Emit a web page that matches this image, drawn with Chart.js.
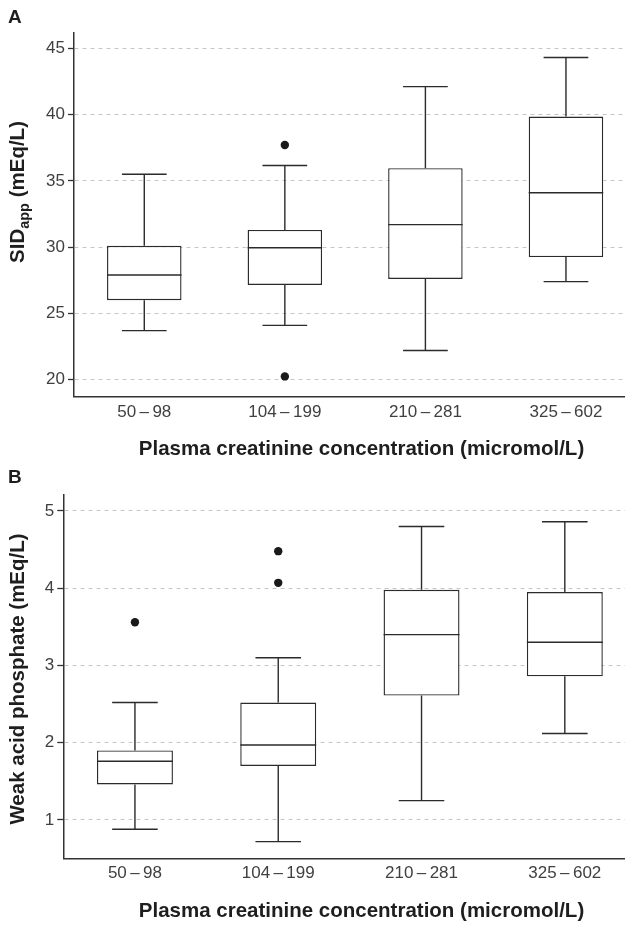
<!DOCTYPE html>
<html>
<head>
<meta charset="utf-8">
<script src="https://cdn.jsdelivr.net/npm/chart.js@4.4.1/dist/chart.umd.min.js"></script>
<style>
  body { margin: 0; background: #fff; }
  canvas { display: block; }
</style>
</head>
<body>
<canvas id="sid-chart" width="625" height="460"></canvas>
<canvas id="phos-chart" width="625" height="466"></canvas>
<script>
// creatinine groups (micromol/L)
const groups = ['50–98', '104–199', '210–281', '325–602'];

// panel A: apparent strong ion difference (mEq/L)
const sidLow = [23.7, 24.1, 22.2, 27.4];
const sidQ1 = [26.0, 27.15, 27.6, 29.25];
const sidMedian = [27.9, 29.95, 31.7, 34.1];
const sidQ3 = [30.1, 31.3, 35.95, 39.85];
const sidHigh = [35.5, 36.15, 42.1, 44.3];
const sidOutliers = [[], [37.7, 20.25], [], []];
const sidTicks = [20, 25, 30, 35, 40, 45];

// panel B: weak acid phosphate (mEq/L)
const phosLow = [0.88, 0.72, 1.25, 2.12];
const phosQ1 = [1.46, 1.70, 2.61, 2.86];
const phosMedian = [1.76, 1.97, 3.40, 3.30];
const phosQ3 = [1.90, 2.52, 3.98, 3.95];
const phosHigh = [2.52, 3.10, 4.80, 4.86];
const phosOutliers = [[3.56], [4.48, 4.07], [], []];
const phosTicks = [1, 2, 3, 4, 5];

const TITLE_FONT = 'bold 20.5px "Liberation Sans", Arial, sans-serif';
const SUB_FONT = 'bold 14.5px "Liberation Sans", Arial, sans-serif';
const LINE = '#2b2b2b';

// whiskers, caps and median line, drawn from each box element
const whiskers = {
    id: 'whiskers',
    afterDatasetsDraw(chart, args, opts) {
        const ctx = chart.ctx;
        const y = chart.scales.y;
        const meta = chart.getDatasetMeta(0);
        ctx.save();
        ctx.strokeStyle = LINE;
        ctx.lineWidth = 1.4;
        meta.data.forEach((bar, i) => {
            const { x, width } = bar.getProps(['x', 'width'], true);
            const half = width / 2;
            const cap = width * 0.3;
            const pLow = y.getPixelForValue(opts.low[i]);
            const pQ1 = y.getPixelForValue(opts.q1[i]);
            const pMed = y.getPixelForValue(opts.median[i]);
            const pQ3 = y.getPixelForValue(opts.q3[i]);
            const pHigh = y.getPixelForValue(opts.high[i]);
            ctx.beginPath();
            ctx.moveTo(x, pQ3); ctx.lineTo(x, pHigh);
            ctx.moveTo(x - cap, pHigh); ctx.lineTo(x + cap, pHigh);
            ctx.moveTo(x, pQ1); ctx.lineTo(x, pLow);
            ctx.moveTo(x - cap, pLow); ctx.lineTo(x + cap, pLow);
            ctx.moveTo(x - half, pMed); ctx.lineTo(x + half, pMed);
            ctx.stroke();
        });
        ctx.restore();
    }
};

// panel letter and axis titles (y title can carry a subscript run)
const panelText = {
    id: 'panelText',
    afterDraw(chart, args, opts) {
        const ctx = chart.ctx;
        ctx.save();
        ctx.fillStyle = '#1e1e1e';
        ctx.textBaseline = 'alphabetic';

        ctx.font = 'bold 19px "Liberation Sans", Arial, sans-serif';
        ctx.textAlign = 'left';
        ctx.fillText(opts.letter, 8, 23);

        ctx.font = TITLE_FONT;
        ctx.textAlign = 'center';
        ctx.fillText(opts.xTitle, opts.xTitleX, opts.xTitleY);

        let total = 0;
        opts.yTitle.forEach(p => {
            ctx.font = p.sub ? SUB_FONT : TITLE_FONT;
            total += ctx.measureText(p.text).width;
        });
        ctx.translate(opts.yTitleX, opts.yTitleY);
        ctx.rotate(-Math.PI / 2);
        ctx.textAlign = 'left';
        let pos = -total / 2;
        opts.yTitle.forEach(p => {
            ctx.font = p.sub ? SUB_FONT : TITLE_FONT;
            ctx.fillText(p.text, pos, p.sub ? 5 : 0);
            pos += ctx.measureText(p.text).width;
        });
        ctx.restore();
    }
};

function makeBoxChart(id, stats, cfg) {
    const boxes = groups.map((g, i) => ({ x: i + 1, y: [stats.q1[i], stats.q3[i]] }));
    const points = [];
    stats.outliers.forEach((list, i) => list.forEach(v => points.push({ x: i + 1, y: v })));

    const ctx = document.getElementById(id).getContext('2d');
    return new Chart(ctx, {
        type: 'bar',
        data: {
            datasets: [{
                data: boxes,
                backgroundColor: '#ffffff',
                borderColor: LINE,
                borderWidth: 1.4,
                borderSkipped: false,
                barPercentage: 1,
                categoryPercentage: 0.53
            }, {
                type: 'scatter',
                data: points,
                pointRadius: 4.2,
                pointBackgroundColor: '#1a1a1a',
                pointBorderWidth: 0
            }]
        },
        options: {
            responsive: false,
            animation: false,
            layout: { autoPadding: false, padding: { top: cfg.top, left: 0, right: 0, bottom: 0 } },
            plugins: {
                legend: { display: false },
                tooltip: { enabled: false },
                whiskers: stats,
                panelText: cfg.text
            },
            scales: {
                x: {
                    type: 'linear',
                    offset: false,
                    min: 0.5,
                    max: 4.42,
                    afterBuildTicks: s => { s.ticks = groups.map((g, i) => ({ value: i + 1 })); },
                    afterFit: s => { s.height = cfg.xHeight; },
                    grid: { display: false, drawTicks: false, offset: false },
                    border: { display: true, color: '#333', width: 1.5 },
                    ticks: {
                        padding: 5,
                        color: '#404040',
                        font: { family: '"Liberation Sans", Arial, sans-serif', size: 17 },
                        callback: v => groups[v - 1].replace('–', '\u2009\u2013\u2009')
                    }
                },
                y: {
                    min: cfg.min,
                    max: cfg.max,
                    afterBuildTicks: s => { s.ticks = cfg.ticks.map(v => ({ value: v })); },
                    afterFit: s => { s.width = cfg.yWidth; },
                    grid: { color: '#c6c6c6', lineWidth: 1, tickColor: '#333', tickLength: 6, tickWidth: 1.3 },
                    border: { display: true, color: '#333', width: 1.5, dash: [4, 4] },
                    ticks: {
                        padding: 3,
                        color: '#404040',
                        font: { family: '"Liberation Sans", Arial, sans-serif', size: 17 }
                    }
                }
            }
        },
        plugins: [whiskers, panelText]
    });
}

makeBoxChart('sid-chart', {
    low: sidLow, q1: sidQ1, median: sidMedian, q3: sidQ3, high: sidHigh, outliers: sidOutliers
}, {
    min: 18.72, max: 46.2, ticks: sidTicks,
    top: 32.3, yWidth: 74, xHeight: 63.3,
    text: {
        letter: 'A',
        xTitle: 'Plasma creatinine concentration (micromol/L)', xTitleX: 361.5, xTitleY: 455,
        yTitle: [{ text: 'SID' }, { text: 'app', sub: true }, { text: ' (mEq/L)' }],
        yTitleX: 24, yTitleY: 192
    }
});

makeBoxChart('phos-chart', {
    low: phosLow, q1: phosQ1, median: phosMedian, q3: phosQ3, high: phosHigh, outliers: phosOutliers
}, {
    min: 0.504, max: 5.216, ticks: phosTicks,
    top: 34.3, yWidth: 63.3, xHeight: 67.7,
    text: {
        letter: 'B',
        xTitle: 'Plasma creatinine concentration (micromol/L)', xTitleX: 361.5, xTitleY: 457,
        yTitle: [{ text: 'Weak acid phosphate (mEq/L)' }],
        yTitleX: 24, yTitleY: 219
    }
});
</script>
</body>
</html>
